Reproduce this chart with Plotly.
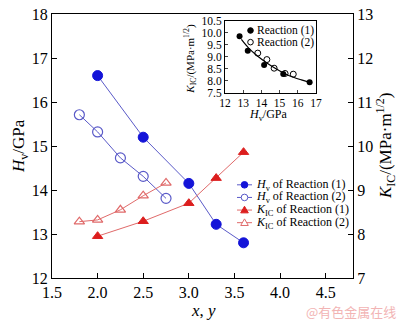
import plotly.graph_objects as go

# ---- data ----
xy_r1 = [2.0, 2.5, 3.0, 3.3, 3.6]
hv_r1 = [16.6, 15.2, 14.15, 13.22, 12.8]
kic_r1 = [7.95, 8.29, 8.70, 9.27, 9.86]

xy_r2 = [1.8, 2.0, 2.25, 2.5, 2.75]
hv_r2 = [15.71, 15.32, 14.73, 14.31, 13.81]
kic_r2 = [8.28, 8.32, 8.55, 8.87, 9.16]

# inset: KIC vs Hv
ins_hv_r1 = [12.8, 13.25, 14.15, 15.2, 16.65]
ins_k_r1 = [9.85, 9.25, 8.65, 8.28, 7.93]
ins_hv_r2 = [13.8, 14.3, 14.7, 15.3, 15.75]
ins_k_r2 = [9.15, 8.88, 8.52, 8.30, 8.27]
fit_hv = [12.9, 13.3, 13.8, 14.3, 14.8, 15.3, 15.8, 16.2, 16.65]
fit_k = [9.72, 9.36, 9.02, 8.74, 8.50, 8.29, 8.13, 8.03, 7.93]

legend_names = ["<i>H</i><sub>v</sub> of Reaction (1)",
                "<i>H</i><sub>v</sub> of Reaction (2)",
                "<i>K</i><sub>IC</sub> of Reaction (1)",
                "<i>K</i><sub>IC</sub> of Reaction (2)"]

FONT = "Liberation Serif"
BLUE = "#1414d8"
BLUE_L = "#5a5ac8"
RED = "#dc1e1e"
RED_L = "#e06a6a"

W, H = 400, 323
ML, MR, MT, MB = 52, 47, 6, 45
PW, PH = W - ML - MR, H - MT - MB


def px(x):
    return (x - ML) / PW


def py(y):
    return (H - MB - y) / PH


fig = go.Figure()

fig.add_trace(go.Scatter(x=xy_r1, y=hv_r1, mode="lines+markers", name=legend_names[0],
    line=dict(color=BLUE_L, width=1),
    marker=dict(symbol="circle", size=10, color=BLUE, line=dict(color=BLUE, width=1))))
fig.add_trace(go.Scatter(x=xy_r2, y=hv_r2, mode="lines+markers", name=legend_names[1],
    line=dict(color=BLUE_L, width=1),
    marker=dict(symbol="circle-open", size=10, color=BLUE_L, line=dict(color=BLUE_L, width=1.2))))
fig.add_trace(go.Scatter(x=xy_r1, y=kic_r1, mode="lines+markers", yaxis="y2", name=legend_names[2],
    line=dict(color=RED_L, width=1),
    marker=dict(symbol="triangle-up", size=9, color=RED, line=dict(color=RED, width=1))))
fig.add_trace(go.Scatter(x=xy_r2, y=kic_r2, mode="lines+markers", yaxis="y2", name=legend_names[3],
    line=dict(color=RED_L, width=1),
    marker=dict(symbol="triangle-up-open", size=9, color=RED_L, line=dict(color=RED_L, width=1.2))))

# inset
fig.add_trace(go.Scatter(x=fit_hv, y=fit_k, mode="lines", xaxis="x3", yaxis="y3",
    line=dict(color="black", width=1.2, shape="spline")))
fig.add_trace(go.Scatter(x=ins_hv_r1, y=ins_k_r1, mode="markers", xaxis="x3", yaxis="y3",
    marker=dict(symbol="circle", size=6, color="black")))
fig.add_trace(go.Scatter(x=ins_hv_r2, y=ins_k_r2, mode="markers", xaxis="x3", yaxis="y3",
    marker=dict(symbol="circle-open", size=6, color="black", line=dict(width=1))))

axis_common = dict(showgrid=False, zeroline=False, linecolor="black", linewidth=1,
                   ticks="inside", ticklen=5, tickcolor="black",
                   tickfont=dict(family=FONT, size=16, color="black"))
inset_common = dict(showline=True, mirror=True, showgrid=False, zeroline=False,
                    linecolor="black", linewidth=1, ticks="inside", ticklen=3,
                    tickfont=dict(family=FONT, size=11.5, color="black"))

fig.update_layout(
    width=W, height=H,
    margin=dict(l=ML, r=MR, t=MT, b=MB),
    paper_bgcolor="white", plot_bgcolor="white",
    font=dict(family=FONT, color="black"),
    showlegend=False,
    xaxis=dict(range=[1.5, 4.8], tickvals=[1.5, 2.0, 2.5, 3.0, 3.5, 4.0, 4.5],
               ticktext=["1.5", "2.0", "2.5", "3.0", "3.5", "4.0", "4.5"],
               mirror=True, showline=True, **axis_common),
    yaxis=dict(range=[12, 18], dtick=1, showline=True, **axis_common),
    yaxis2=dict(range=[7, 13], dtick=1, overlaying="y", side="right",
                showline=True, **axis_common),
    xaxis3=dict(domain=[px(225), px(316)], anchor="y3", range=[12, 17], dtick=1, **inset_common),
    yaxis3=dict(domain=[py(87), py(13)], anchor="x3", range=[7.5, 10.5],
                tickvals=[7.5, 8.0, 8.5, 9.0, 9.5, 10.0, 10.5],
                ticktext=["7.5", "8.0", "8.5", "9.0", "9.5", "10.0", "10.5"], **inset_common),
)

# axis titles
fig.add_annotation(text="<i>H</i><sub>v</sub>/GPa", xref="paper", yref="paper",
                   x=px(20), y=0.5, xanchor="center", yanchor="middle", textangle=-90,
                   showarrow=False, font=dict(family=FONT, size=17))
fig.add_annotation(text="<i>K</i><sub>IC</sub>/(MPa·m<sup>1/2</sup>)", xref="paper", yref="paper",
                   x=px(385), y=0.5, xanchor="center", yanchor="middle", textangle=-90,
                   showarrow=False, font=dict(family=FONT, size=17))
fig.add_annotation(text="<i>x</i>, <i>y</i>", xref="paper", yref="paper",
                   x=px(203), y=py(311), xanchor="center", yanchor="middle",
                   showarrow=False, font=dict(family=FONT, size=17))
# inset titles
fig.add_annotation(text="<i>H</i><sub>v</sub>/GPa", xref="paper", yref="paper",
                   x=px(268), y=py(110), xanchor="center", yanchor="middle",
                   showarrow=False, font=dict(family=FONT, size=12))
fig.add_annotation(text="<i>K</i><sub>IC</sub>/(MPa·m<sup>1/2</sup>)", xref="paper", yref="paper",
                   x=px(190), y=py(52), xanchor="center", yanchor="middle", textangle=-90,
                   showarrow=False, font=dict(family=FONT, size=11))
# inset legend
for yy, fill, label in [(23, "black", "Reaction (1)"), (35, "white", "Reaction (2)")]:
    fig.add_annotation(text=label, xref="paper", yref="paper",
                       x=px(255), y=py(yy), xanchor="left", yanchor="middle",
                       showarrow=False, font=dict(family=FONT, size=11.5))
    fig.add_shape(type="circle", xref="paper", yref="paper",
                  xsizemode="pixel", ysizemode="pixel", xanchor=px(250.5), yanchor=py(yy),
                  x0=-2.8, x1=2.8, y0=-2.8, y1=2.8,
                  fillcolor=fill, line=dict(color="black", width=1))

# main legend (compact, drawn manually)
leg_rows = [182, 195, 208, 221]
leg_styles = [(BLUE_L, BLUE, "circle", True), (BLUE_L, BLUE_L, "circle", False),
              (RED_L, RED, "tri", True), (RED_L, RED_L, "tri", False)]
for yy, name, (lc, mc, sym, filled) in zip(leg_rows, legend_names, leg_styles):
    fig.add_shape(type="line", xref="paper", yref="paper",
                  x0=px(237), x1=px(252), y0=py(yy), y1=py(yy),
                  line=dict(color=lc, width=1))
    if sym == "circle":
        fig.add_shape(type="circle", xref="paper", yref="paper",
                      xsizemode="pixel", ysizemode="pixel", xanchor=px(244.5), yanchor=py(yy),
                      x0=-3.3, x1=3.3, y0=-3.3, y1=3.3,
                      fillcolor=mc if filled else "white", line=dict(color=mc, width=1))
    else:
        fig.add_shape(type="path", xref="paper", yref="paper",
                      xsizemode="pixel", ysizemode="pixel", xanchor=px(244.5), yanchor=py(yy),
                      path="M-3.8,-2.8 L3.8,-2.8 L0,3.8 Z",
                      fillcolor=mc if filled else "white", line=dict(color=mc, width=1))
    fig.add_annotation(text=name, xref="paper", yref="paper",
                       x=px(254), y=py(yy), xanchor="left", yanchor="middle",
                       showarrow=False, font=dict(family=FONT, size=12))

# watermark
fig.add_annotation(text="@有色金属在线", xref="paper", yref="paper",
                   x=px(398), y=py(312), xanchor="right", yanchor="middle",
                   showarrow=False, font=dict(family="Noto Sans CJK SC", size=13, color="#f2b4b4"))

fig.write_html("out.html")
